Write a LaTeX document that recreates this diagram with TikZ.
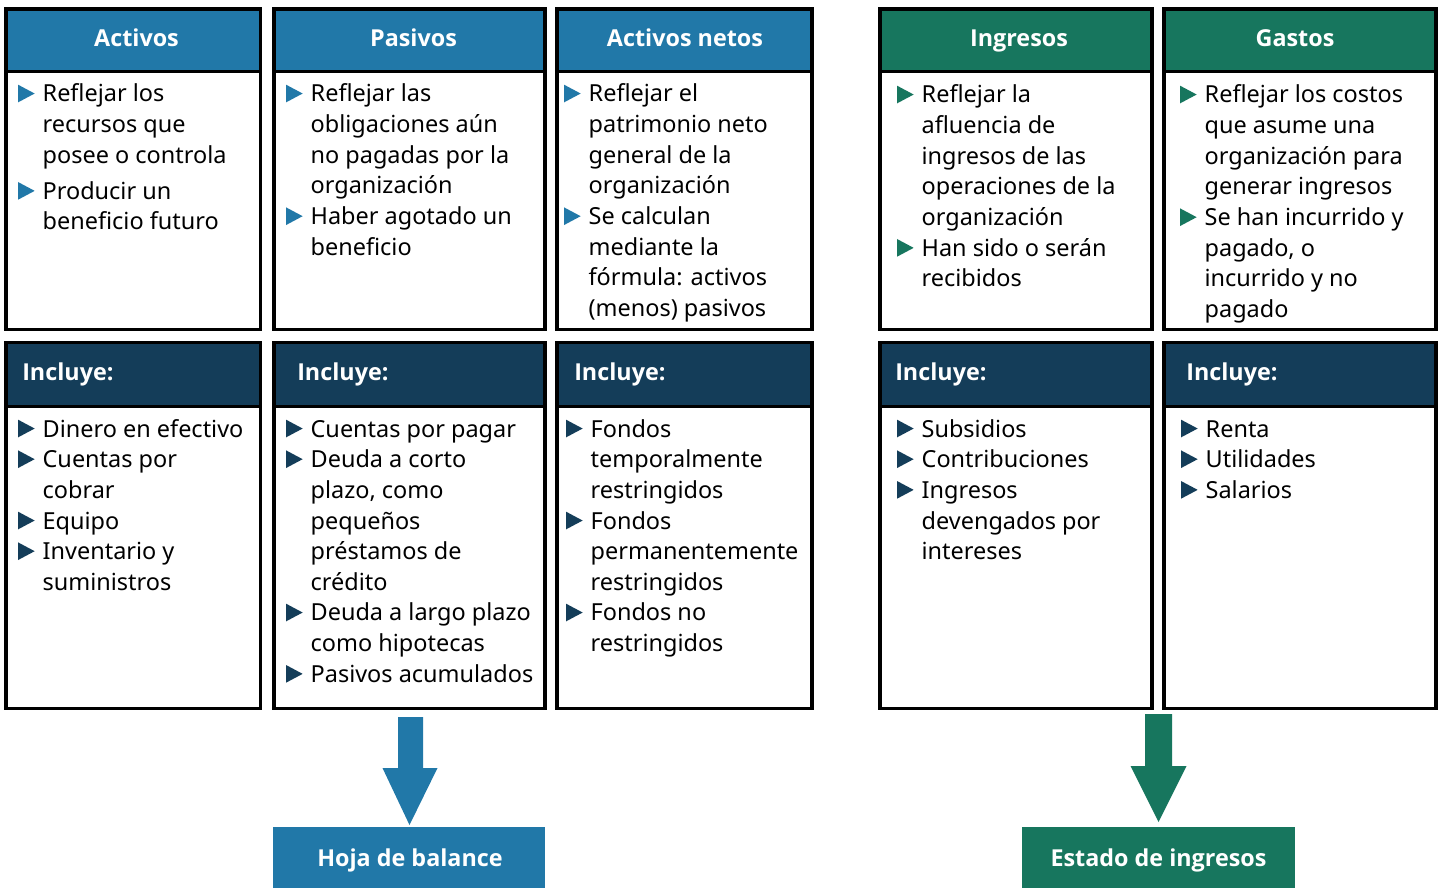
\documentclass[tikz,border=0pt]{standalone}
\usepackage{fontspec}
\setmainfont{Noto Sans}
\newfontfamily\tfont{Open Sans}
\usetikzlibrary{calc}
\definecolor{cblue}{RGB}{33,120,168}
\definecolor{cnavy}{RGB}{20,61,89}
\definecolor{cgreen}{RGB}{23,118,94}
\newcommand\tri[1]{\tikz[baseline=0pt]\fill[#1](0pt,-0.3pt)--(0pt,13pt)--(12.5pt,6.35pt)--cycle;}
\newcommand\B{\tri{\bc}}
\def\bc{cblue}
\newcommand\colbox[6]{% name, x1, x2, title color, title, title x
  \node[hdrbox, fill=#4, minimum width={(#3-#2)*0.75pt}, minimum height={(71.5-9)*0.75pt}] (h#1) at (#2,9) {};
  \node[bordbox, minimum width={(#3-#2)*0.75pt}, minimum height={(329.5-9)*0.75pt}] (u#1) at (#2,9) {};
  \draw[bord] (h#1.south west) -- (h#1.south east);
  \node[title, anchor=base] (ht#1) at (#6,47) {#5};
  \node[hdrbox, fill=cnavy, minimum width={(#3-#2)*0.75pt}, minimum height={(406.5-342.5)*0.75pt}] (i#1) at (#2,342.5) {};
  \node[bordbox, minimum width={(#3-#2)*0.75pt}, minimum height={(708.5-342.5)*0.75pt}] (l#1) at (#2,342.5) {};
  \draw[bord] (i#1.south west) -- (i#1.south east);
}
\tikzset{
  bord/.style={line width=2.3pt, black},
  hdrbox/.style={rectangle, anchor=north west, inner sep=0pt, outer sep=0pt, draw=none},
  bordbox/.style={rectangle, anchor=north west, inner sep=0pt, outer sep=0pt, bord, draw},
  title/.style={inner sep=0pt, text=white, font=\tfont\fontsize{17.5}{21}\selectfont\bfseries},
  txt/.style={inner sep=0pt, outer sep=0pt, anchor=base west, font=\fontsize{17.6}{23}\selectfont},
  endbox/.style={rectangle, anchor=north west, inner sep=0pt, outer sep=0pt},
}
\newenvironment{bl}{\begin{tabular}[t]{@{}l@{\hspace{6pt}}l@{}}}{\end{tabular}}
\begin{document}
\begin{tikzpicture}[x=0.75pt,y=-0.75pt]
\useasboundingbox (0,0) rectangle (1440,888);
\fill[white] (0,0) rectangle (1440,888);
\colbox{a}{6}{260.5}{cblue}{Activos}{136.5}
\colbox{b}{274}{545}{cblue}{Pasivos}{413.5}
\colbox{c}{557}{812}{cblue}{Activos netos}{685}
\colbox{d}{880}{1152}{cgreen}{Ingresos}{1019}
\colbox{e}{1164}{1436}{cgreen}{Gastos}{1295}
% Incluye labels
\foreach \n/\xx in {a/22,b/297,c/574,d/895,e/1186}{
  \node[title, anchor=base west] (inc\n) at (\xx,380) {Incluye:};
}
% upper texts
\def\bc{cblue}
\node[txt] (ta) at (18,102) {\begin{bl}\B&Reflejar los\\&recursos que\\&posee o controla\\[4pt]\B&Producir un\\&beneficio futuro\end{bl}};
\node[txt] (tb) at (286,102) {\begin{bl}\B&Reflejar las\\&obligaciones aún\\&no pagadas por la\\&organización\\\B&Haber agotado un\\&beneficio\end{bl}};
\node[txt] (tc) at (564,102) {\begin{bl}\B&Reflejar el\\&patrimonio neto\\&general de la\\&organización\\\B&Se calculan\\&mediante la\\&fórmula: activos\\&(menos) pasivos\end{bl}};
\def\bc{cgreen}
\node[txt] (td) at (897,103) {\begin{bl}\B&Reflejar la\\&afluencia de\\&ingresos de las\\&operaciones de la\\&organización\\\B&Han sido o serán\\&recibidos\end{bl}};
\node[txt] (te) at (1180,103) {\begin{bl}\B&Reflejar los costos\\&que asume una\\&organización para\\&generar ingresos\\\B&Se han incurrido y\\&pagado, o\\&incurrido y no\\&pagado\end{bl}};
% lower texts
\def\bc{cnavy}
\node[txt] (la) at (18,437) {\begin{bl}\B&Dinero en efectivo\\\B&Cuentas por\\&cobrar\\\B&Equipo\\\B&Inventario y\\&suministros\end{bl}};
\node[txt] (lb) at (286,437) {\begin{bl}\B&Cuentas por pagar\\\B&Deuda a corto\\&plazo, como\\&pequeños\\&préstamos de\\&crédito\\\B&Deuda a largo plazo\\&como hipotecas\\\B&Pasivos acumulados\end{bl}};
\node[txt] (lc) at (566,437) {\begin{bl}\B&Fondos\\&temporalmente\\&restringidos\\\B&Fondos\\&permanentemente\\&restringidos\\\B&Fondos no\\&restringidos\end{bl}};
\node[txt] (ld) at (897,437) {\begin{bl}\B&Subsidios\\\B&Contribuciones\\\B&Ingresos\\&devengados por\\&intereses\end{bl}};
\node[txt] (le) at (1181,437) {\begin{bl}\B&Renta\\\B&Utilidades\\\B&Salarios\end{bl}};
% bottom boxes
\node[endbox, fill=cblue, minimum width={(545-273)*0.75pt}, minimum height={(890-827)*0.75pt}] (hb) at (273,827) {};
\node[title, anchor=base] (hbt) at (410,866) {Hoja de balance};
\node[endbox, fill=cgreen, minimum width={(1295-1022)*0.75pt}, minimum height={(890-827)*0.75pt}] (ei) at (1022,827) {};
\node[title, anchor=base] (eit) at (1158.5,866) {Estado de ingresos};
% arrows
\coordinate (ab) at (410.5,717);
\fill[cblue] ($(ab)+(-12.5,0)$) -- ($(ab)+(12.5,0)$) -- ($(ab)+(12.5,51)$) -- ($(ab)+(27,51)$) -- ($(hb.north)+(0.5,-2)$) -- ($(ab)+(-28,51)$) -- ($(ab)+(-12.5,51)$) -- cycle;
\coordinate (ag) at (1158.5,714);
\fill[cgreen] ($(ag)+(-13.5,0)$) -- ($(ag)+(13.5,0)$) -- ($(ag)+(13.5,52)$) -- ($(ag)+(28,52)$) -- ($(ei.north)+(0,-5)$) -- ($(ag)+(-28,52)$) -- ($(ag)+(-13.5,52)$) -- cycle;
\end{tikzpicture}
\end{document}
